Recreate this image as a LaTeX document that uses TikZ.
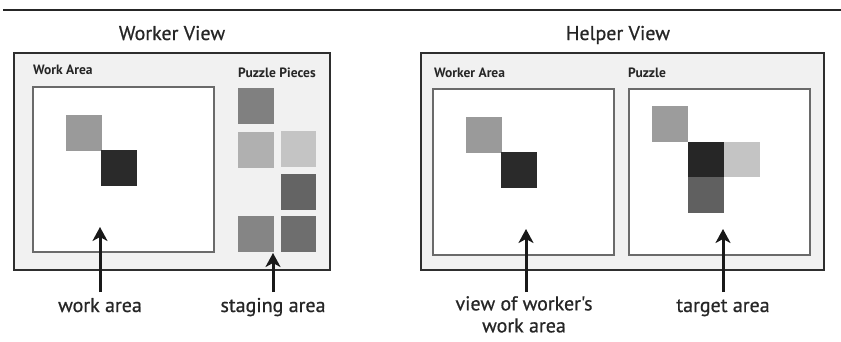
\documentclass[tikz,border=0pt]{standalone}
\usepackage{fontspec}
\setmainfont{PT Sans}
\newfontfamily\heavysans{PT Sans}[FakeBold=0.7]
\usetikzlibrary{arrows.meta}
\definecolor{panelbg}{HTML}{F1F1F1}
\definecolor{frame}{HTML}{2E2E2E}
\definecolor{innerframe}{HTML}{6A6A6A}
\tikzset{
  panel/.style={draw=frame, line width=2pt, fill=panelbg},
  areabox/.style={draw=innerframe, line width=1.3pt, fill=white},
  title/.style={font=\heavysans\fontsize{20}{24}\selectfont, text=black!85},
  smalllabel/.style={font=\bfseries\fontsize{13.5}{16}\selectfont, text=black!85, anchor=base west, inner sep=0pt},
  caption/.style={font=\heavysans\fontsize{20}{22}\selectfont, text=black!85, align=center, inner sep=0pt},
  pointer/.style={line width=3pt, draw=black!90, -{Stealth[length=14pt,width=15pt,inset=4pt]}},
}
\begin{document}
\begin{tikzpicture}[x=1pt,y=-1pt]
\useasboundingbox (0,0) rectangle (841,341);
% top rule
\draw[line width=2.5pt, black!85] (3,10) -- (841,10);

% ---------- Worker View ----------
\node[title, anchor=base] (wtitle) at (172,40) {Worker View};
\draw[panel] (14,53) rectangle (330,270);
\node[smalllabel] (wlab) at (33,74) {Work Area};
\node[smalllabel] (plab) at (238,77) {Puzzle Pieces};
\draw[areabox] (33,87) rectangle (214,252);
% pieces in work area
\fill[fill={rgb,255:red,154;green,154;blue,154}] (66,115) rectangle (102,151);
\fill[fill={rgb,255:red,42;green,42;blue,42}] (101,150) rectangle (137,186);
% staging pieces
\fill[fill={rgb,255:red,128;green,128;blue,128}] (238,88) rectangle (274,124);
\fill[fill={rgb,255:red,176;green,176;blue,176}] (238,132) rectangle (274,168);
\fill[fill={rgb,255:red,196;green,196;blue,196}] (281,131) rectangle (316,167);
\fill[fill={rgb,255:red,100;green,100;blue,100}] (281,174) rectangle (316,210);
\fill[fill={rgb,255:red,133;green,133;blue,133}] (238,216) rectangle (274,252);
\fill[fill={rgb,255:red,110;green,110;blue,110}] (281,216) rectangle (316,252);

\node[caption, anchor=base] (cwork) at (100,312) {work area};
\node[caption, anchor=base] (cstage) at (273,312) {staging area};
\coordinate (awtip) at (100,227);
\coordinate (astip) at (273,253);
\draw[pointer] (100,292) -- (awtip);
\draw[pointer] (273,292) -- (astip);

% ---------- Helper View ----------
\node[title, anchor=base] (htitle) at (618,40) {Helper View};
\draw[panel] (421,53) rectangle (824,270);
\node[smalllabel] (hwlab) at (434,77) {Worker Area};
\node[smalllabel] (hplab) at (628,77) {Puzzle};
\draw[areabox] (433,89) rectangle (614,255);
\draw[areabox] (629,89) rectangle (810,255);
\fill[fill={rgb,255:red,154;green,154;blue,154}] (466,117) rectangle (502,153);
\fill[fill={rgb,255:red,42;green,42;blue,42}] (501,152) rectangle (537,188);
% target
\fill[fill={rgb,255:red,156;green,156;blue,156}] (652,106) rectangle (688,142);
\fill[fill={rgb,255:red,38;green,38;blue,38}] (688,142) rectangle (724,177);
\fill[fill={rgb,255:red,196;green,196;blue,196}] (724,142) rectangle (760,177);
\fill[fill={rgb,255:red,96;green,96;blue,96}] (688,177) rectangle (724,213);

\node[caption, anchor=north] (cview) at (524,296) {view of worker's\\work area};
\node[caption, anchor=base] (ctarget) at (723,312) {target area};
\coordinate (avtip) at (526,229);
\coordinate (attip) at (723,229);
\draw[pointer] (526,292) -- (avtip);
\draw[pointer] (723,292) -- (attip);
\end{tikzpicture}
\end{document}
